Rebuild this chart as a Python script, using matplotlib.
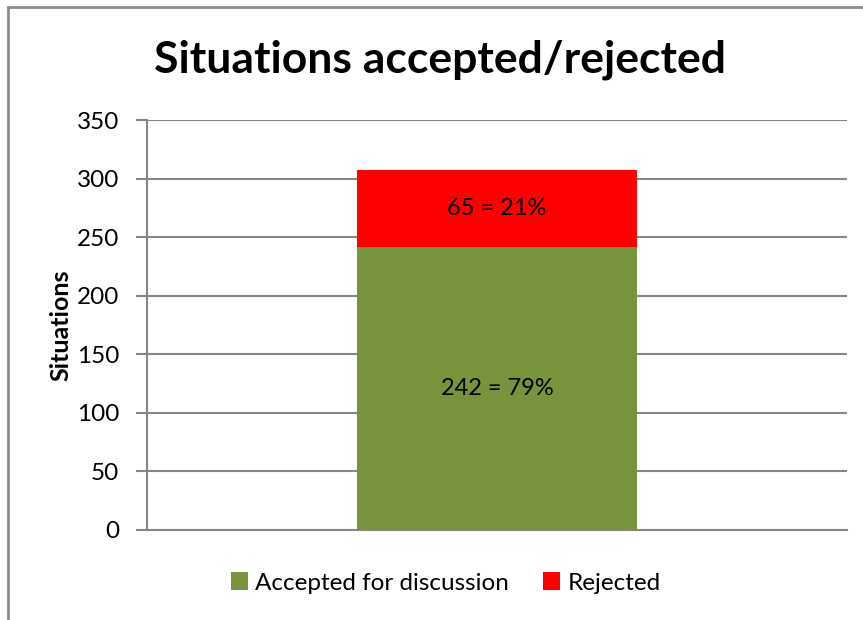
import matplotlib.pyplot as plt
from matplotlib.patches import Rectangle

categories = ['Situations']
accepted = [242]
rejected = [65]
accepted_labels = ['242 = 79%']
rejected_labels = ['65 = 21%']
yticks = [0, 50, 100, 150, 200, 250, 300, 350]

plt.rcParams['font.family'] = ['Lato', 'DejaVu Sans']

fig = plt.figure(figsize=(8.63, 6.2), dpi=100)
ax = fig.add_axes([147 / 863, 1 - 530 / 620, 700 / 863, 410 / 620])

green = '#77933C'
red = '#FF0000'
grid_c = '#868686'

x = list(range(len(categories)))
b1 = ax.bar(x, accepted, width=0.4, color=green, label='Accepted for discussion', zorder=3)
b2 = ax.bar(x, rejected, width=0.4, bottom=accepted, color=red, label='Rejected', zorder=3)

for i in x:
    ax.text(i, accepted[i] / 2, accepted_labels[i], ha='center', va='center', fontsize=17, zorder=4)
    ax.text(i, accepted[i] + rejected[i] / 2, rejected_labels[i], ha='center', va='center', fontsize=17, zorder=4)

ax.set_xlim(-0.5, 0.5)
ax.set_ylim(0, 350)
ax.set_yticks(yticks)
ax.set_xticks([])
ax.yaxis.grid(True, color=grid_c, linewidth=1.5, zorder=0)
ax.tick_params(axis='y', length=8, width=1.5, color=grid_c, labelsize=17.5, pad=12)
for s in ['top', 'right']:
    ax.spines[s].set_visible(False)
ax.spines['left'].set_color(grid_c)
ax.spines['left'].set_linewidth(1.5)
ax.spines['bottom'].set_color(grid_c)
ax.spines['bottom'].set_linewidth(1.5)

ax.set_ylabel('Situations', fontsize=18, fontweight='bold', labelpad=3)
fig.text(440 / 863, 1 - 60 / 620, 'Situations accepted/rejected', ha='center', va='center',
         fontsize=32, fontweight='bold')

fig.legend(handles=[b1, b2], loc='center', bbox_to_anchor=(446 / 863, 1 - 583 / 620),
           ncol=2, frameon=False, fontsize=17.5, handlelength=0.7, handleheight=0.7,
           handletextpad=0.3, columnspacing=1.4)

fig.patches.append(Rectangle((8 / 863, -0.1), 1.2, 1 - 7 / 620 + 0.1, transform=fig.transFigure,
                             fill=False, edgecolor='#8C8C8C', linewidth=2))

fig.savefig('out.png', dpi=100)
